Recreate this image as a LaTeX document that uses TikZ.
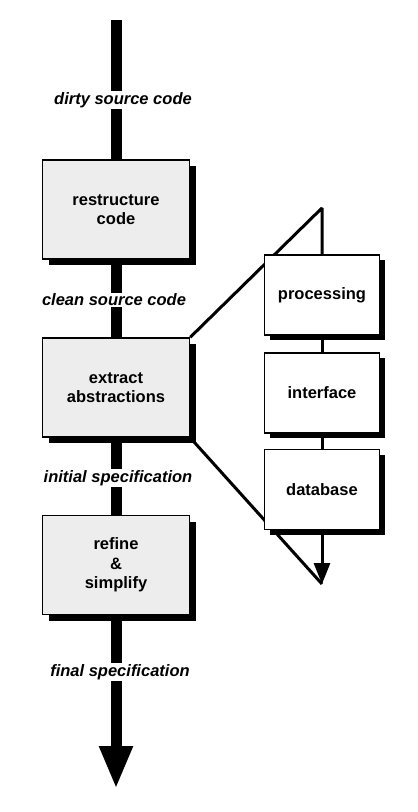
\documentclass[tikz,border=0pt]{standalone}
\usepackage{fontspec}
\setmainfont{Liberation Sans}
\usetikzlibrary{arrows.meta,shadows,backgrounds}

\begin{document}
\begin{tikzpicture}[x=1pt, y=-1pt,
    box/.style={draw, line width=1.5pt, align=center,
      font=\fontsize{16.5}{19.5}\selectfont\bfseries},
    stage/.style={box, fill=black!7, minimum width=147pt, minimum height=99pt,
      drop shadow={fill=black, opacity=1, shadow xshift=6pt, shadow yshift=-6pt}},
    part/.style={box, fill=white, minimum width=115pt, minimum height=80pt,
      drop shadow={fill=black, opacity=1, shadow xshift=5pt, shadow yshift=-5pt}},
    flowlabel/.style={fill=white, inner sep=1pt,
      font=\fontsize{16.5}{19.5}\selectfont\bfseries\itshape},
    flow/.style={line width=11pt},
    link/.style={line width=3pt, line join=bevel}]
  \useasboundingbox (0,0) rectangle (418,812);

  % Define nodes
  \node[stage] (restructure) at (116,209.5) {restructure\\code};
  \node[stage] (extract) at (116,387.5) {extract\\abstractions};
  \node[stage] (refine) at (116,565) {refine\\\&\\simplify};

  \node[part] (processing) at (322,295) {processing};
  \node[part] (interface) at (322,393) {interface};
  \node[part] (database) at (322,489.5) {database};

  \node[flowlabel] (dirty) at (123,100) {dirty source code};
  \node[flowlabel] (clean) at (114,300) {clean source code};
  \node[flowlabel] (initial) at (118,478) {initial specification};
  \node[flowlabel] (final) at (120,672) {final specification};

  \coordinate (start) at (116,20);
  \coordinate (end) at (116,789);
  \coordinate (apex) at (322,208);
  \coordinate (tip) at (322,584);

  % Define edges behind the boxes
  \begin{scope}[on background layer]
    \draw[flow] (start) -- (restructure);
    \draw[flow] (restructure) -- (extract);
    \draw[flow] (extract) -- (refine);
    \draw[flow, -{Triangle[width=31pt, length=43pt]}] (refine) -- (end);

    \draw[link] (extract.north east) -- (apex) -- (processing);
    \draw[link] (processing) -- (interface);
    \draw[link] (interface) -- (database);
    \draw[link, -{Triangle[width=16pt, length=21pt]}] (database) -- (tip);
    \draw[link] (tip) -- (extract.south east);
  \end{scope}
\end{tikzpicture}
\end{document}
